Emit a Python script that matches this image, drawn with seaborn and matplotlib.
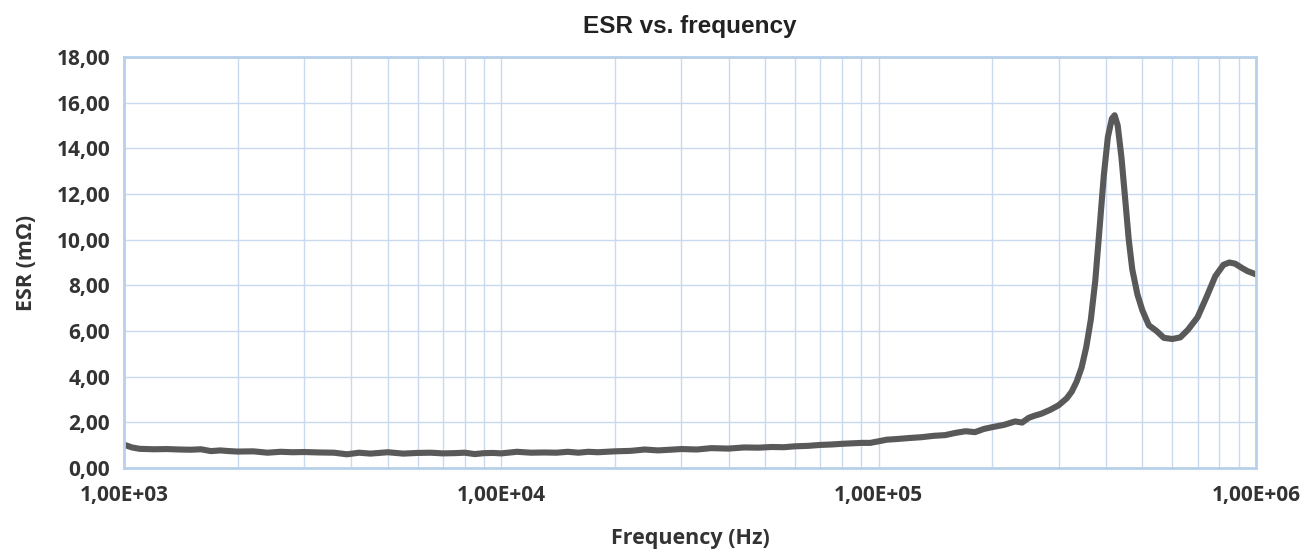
import matplotlib
matplotlib.use("Agg")
import matplotlib.pyplot as plt
import matplotlib.ticker as mticker
import seaborn as sns
import numpy as np
import pandas as pd

# frequency (Hz) and ESR (mOhm)
freq = [
    1000, 1050, 1100, 1200, 1300, 1400, 1500, 1600, 1700, 1800, 1900, 2000,
    2200, 2400, 2600, 2800, 3000, 3300, 3600, 3900, 4200, 4500, 5000, 5500,
    6000, 6500, 7000, 7500, 8000, 8500, 9000, 9500, 10000, 11000, 12000,
    13000, 14000, 15000, 16000, 17000, 18000, 20000, 22000, 24000, 26000,
    28000, 30000, 33000, 36000, 40000, 44000, 48000, 52000, 56000, 60000,
    65000, 70000, 75000, 80000, 85000, 90000, 95000, 100000, 105000, 110000,
    120000, 130000, 140000, 150000, 160000, 170000, 180000, 190000, 200000,
    215000, 230000, 240000, 250000, 260000, 270000, 285000, 300000, 315000,
    325000, 335000, 345000, 355000, 365000, 375000, 385000, 395000, 405000,
    415000, 422000, 430000, 440000, 450000, 460000, 470000, 485000, 500000,
    520000, 545000, 570000, 600000, 630000, 660000, 700000, 740000, 780000,
    820000, 850000, 880000, 920000, 950000, 1000000,
]
esr = [
    1.02, 0.90, 0.84, 0.82, 0.83, 0.81, 0.80, 0.82, 0.74, 0.77, 0.74, 0.72,
    0.73, 0.67, 0.71, 0.69, 0.70, 0.68, 0.67, 0.60, 0.67, 0.63, 0.69, 0.63,
    0.66, 0.67, 0.64, 0.65, 0.67, 0.61, 0.65, 0.66, 0.64, 0.71, 0.67,
    0.68, 0.67, 0.71, 0.67, 0.71, 0.69, 0.73, 0.75, 0.81, 0.77,
    0.80, 0.83, 0.81, 0.87, 0.85, 0.90, 0.89, 0.92, 0.91, 0.95,
    0.97, 1.01, 1.03, 1.06, 1.08, 1.10, 1.10, 1.17, 1.24, 1.26,
    1.31, 1.35, 1.41, 1.44, 1.54, 1.61, 1.57, 1.71, 1.79,
    1.89, 2.04, 1.99, 2.20, 2.30, 2.38, 2.55, 2.75, 3.05,
    3.35, 3.80, 4.40, 5.30, 6.50, 8.20, 10.5, 12.8, 14.5,
    15.3, 15.45, 15.0, 13.6, 11.8, 10.0, 8.7, 7.6, 6.9,
    6.25, 6.0, 5.70, 5.65, 5.72, 6.05, 6.60, 7.50, 8.40,
    8.90, 9.00, 8.95, 8.75, 8.62, 8.48,
]

y_ticks = [0, 2, 4, 6, 8, 10, 12, 14, 16, 18]
x_ticks = [1e3, 1e4, 1e5, 1e6]

sns.set_style("white")
plt.rcParams['font.family'] = ['Open Sans', 'DejaVu Sans']

df = pd.DataFrame({"Frequency": freq, "ESR": esr})

fig, ax = plt.subplots(figsize=(13.04, 5.55), dpi=100)
fig.subplots_adjust(left=124 / 1304, right=1256 / 1304, top=1 - 57 / 555, bottom=1 - 468 / 555)

sns.lineplot(data=df, x="Frequency", y="ESR", ax=ax, color="#595959", linewidth=4.4)

ax.set_xscale("log")
ax.set_xlim(1e3, 1e6)
ax.set_ylim(0, 18)
ax.set_yticks(y_ticks)
ax.set_yticklabels([f"{v:.2f}".replace(".", ",") for v in y_ticks])
ax.set_xticks(x_ticks)
ax.set_xticklabels([f"{v:.2E}".replace(".", ",") for v in x_ticks])
ax.xaxis.set_minor_locator(mticker.LogLocator(base=10, subs=np.arange(2, 10)))
ax.xaxis.set_minor_formatter(mticker.NullFormatter())

ax.grid(True, which="major", axis="both", color="#c9d9ee", linewidth=1.0)
ax.grid(True, which="minor", axis="x", color="#c9d9ee", linewidth=1.0)
ax.tick_params(axis="both", which="both", length=0, labelsize=15, labelcolor="#333333")
ax.tick_params(axis="x", pad=12)
ax.tick_params(axis="y", pad=10)
for lab in ax.get_xticklabels() + ax.get_yticklabels():
    lab.set_fontweight("bold")

for side in ["left", "bottom", "top", "right"]:
    ax.spines[side].set_visible(True)
    ax.spines[side].set_color("#b8d0ea")
    ax.spines[side].set_linewidth(2.0)

ax.set_title("ESR vs. frequency", fontsize=17.5, fontweight="bold",
             family=["Liberation Sans", "DejaVu Sans"], color="#222222", pad=17)
ax.set_xlabel("Frequency (Hz)", fontsize=15.5, fontweight="bold", color="#333333", labelpad=16)
ax.set_ylabel("ESR (m\u03a9)", fontsize=15.5, fontweight="bold", color="#333333", labelpad=14)

fig.savefig("out.png", dpi=100)
